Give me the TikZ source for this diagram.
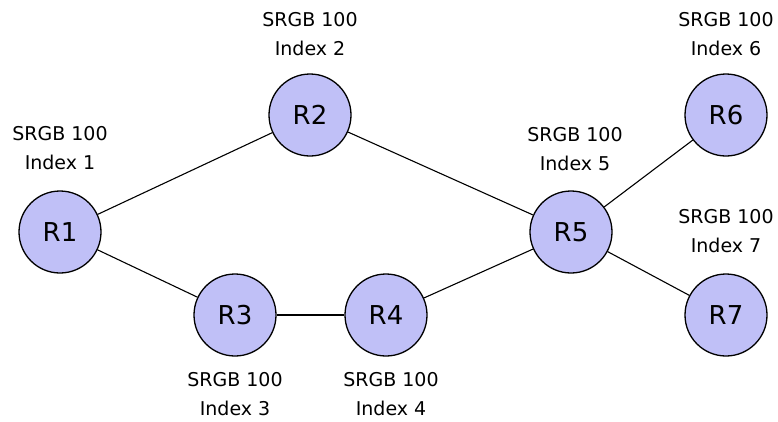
\documentclass[tikz,border=0pt]{standalone}
\usepackage{fontspec}
\setmainfont{DejaVu Sans}
\definecolor{nodefill}{RGB}{192,192,247}
\begin{document}
\begin{tikzpicture}[x=1pt,y=-1pt,
  router/.style={circle,draw=black,line width=1.3pt,fill=nodefill,minimum size=82pt,inner sep=0pt,font=\fontsize{26}{30}\selectfont},
  lbl/.style={align=center,font=\fontsize{19}{29}\selectfont,inner sep=0pt},
  link/.style={line width=1.1pt}]
\useasboundingbox (0,0) rectangle (778,421);
\node[router] (R1) at (60,232) {R1};
\node[router] (R2) at (310,115) {R2};
\node[router] (R3) at (235,315) {R3};
\node[router] (R4) at (386,315) {R4};
\node[router] (R5) at (571,232) {R5};
\node[router] (R6) at (726,115) {R6};
\node[router] (R7) at (726,315) {R7};
\draw[link] (R1) -- (R2);
\draw[link] (R1) -- (R3);
\draw[link] (R3) -- (R4);
\draw[link] (R4) -- (R5);
\draw[link] (R2) -- (R5);
\draw[link] (R5) -- (R6);
\draw[link] (R5) -- (R7);
\node[lbl] (L1) at (60,148) {SRGB 100\\Index 1};
\node[lbl] (L2) at (310,34) {SRGB 100\\Index 2};
\node[lbl] (L3) at (235,394) {SRGB 100\\Index 3};
\node[lbl] (L4) at (391,394) {SRGB 100\\Index 4};
\node[lbl] (L5) at (575,149) {SRGB 100\\Index 5};
\node[lbl] (L6) at (726,34) {SRGB 100\\Index 6};
\node[lbl] (L7) at (726,231) {SRGB 100\\Index 7};
\end{tikzpicture}
\end{document}
